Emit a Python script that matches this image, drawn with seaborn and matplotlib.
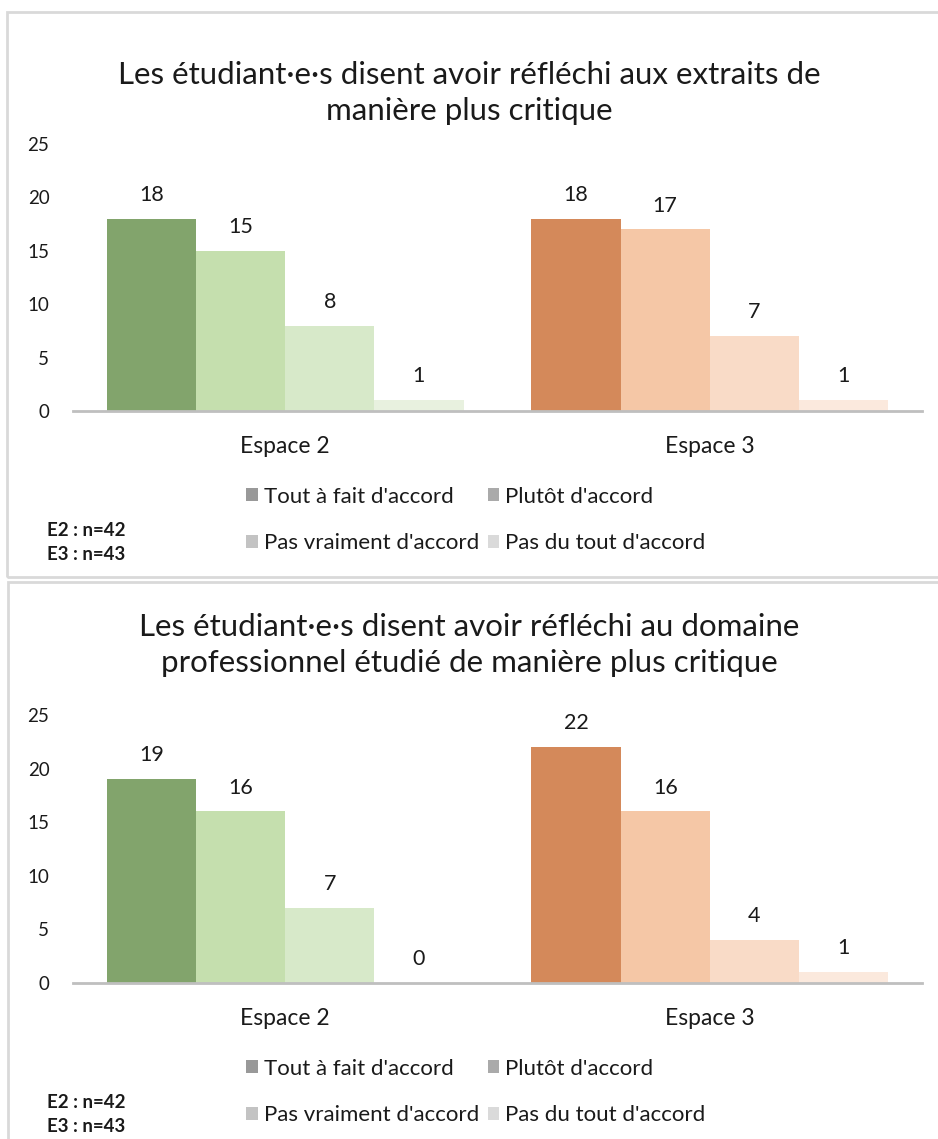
import matplotlib
matplotlib.use("Agg")
import matplotlib.pyplot as plt
import seaborn as sns
import pandas as pd
from matplotlib.patches import Patch, Rectangle

# ---------------- data ----------------
categories = ["Espace 2", "Espace 3"]
responses = ["Tout à fait d'accord", "Plutôt d'accord",
             "Pas vraiment d'accord", "Pas du tout d'accord"]
chart1_e2 = [18, 15, 8, 1]
chart1_e3 = [18, 17, 7, 1]
chart2_e2 = [19, 16, 7, 0]
chart2_e3 = [22, 16, 4, 1]
titles = ["Les étudiant·e·s disent avoir réfléchi aux extraits de\nmanière plus critique",
          "Les étudiant·e·s disent avoir réfléchi au domaine\nprofessionnel étudié de manière plus critique"]
yticks = [0, 5, 10, 15, 20, 25]
notes = ["E2 : n=42", "E3 : n=43"]

greens = ["#82A46C", "#C5DFAE", "#D7E9C9", "#E8F1DF"]
oranges = ["#D4895A", "#F5C7A6", "#F9DBC7", "#FBE9DD"]
legend_grays = ["#999999", "#AAAAAA", "#C3C3C3", "#DADADA"]

W, H = 938, 1139
sns.set_theme(style="white")
plt.rcParams['font.family'] = ['Lato', 'DejaVu Sans']

fig = plt.figure(figsize=(W / 100, H / 100), dpi=100)


def fx(px):
    return px / W


def fy(py):
    return 1 - py / H


panels = [
    dict(border=(7, 12, 940, 577), title_y=93, ax_top=144, ax_bot=411,
         leg_y=520, note_y=(531, 555), data=(chart1_e2, chart1_e3), title=titles[0]),
    dict(border=(8, 582, 940, 1150), title_y=645, ax_top=715, ax_bot=983,
         leg_y=1092, note_y=(1103, 1127), data=(chart2_e2, chart2_e3), title=titles[1]),
]

for p in panels:
    x0, y0, x1, y1 = p["border"]
    fig.patches.append(Rectangle((fx(x0), fy(y1)), fx(x1 - x0), (y1 - y0) / H,
                                 transform=fig.transFigure, fill=False,
                                 edgecolor="#D9D9D9", linewidth=2, zorder=0))
    fig.text(fx(469), fy(p["title_y"]), p["title"], ha="center", va="center",
             fontsize=22.5, linespacing=1.32, color="#1a1a1a")

    ax = fig.add_axes([fx(73), fy(p["ax_bot"]), fx(922 - 73), (p["ax_bot"] - p["ax_top"]) / H])
    ax.patch.set_alpha(0)
    for cat, vals, pal in zip(categories, p["data"], [greens, oranges]):
        df = pd.DataFrame({"espace": [cat] * len(responses), "reponse": responses, "n": vals})
        sns.barplot(data=df, x="espace", y="n", hue="reponse", order=categories,
                    hue_order=responses, palette=pal, width=0.84, gap=0,
                    saturation=1, legend=False, ax=ax, linewidth=0)
    for c in ax.containers:
        ax.bar_label(c, padding=10, fontsize=15.5, color="#1a1a1a", fmt="%d")

    ax.set_ylim(0, 25)
    ax.set_xlim(-0.5, 1.5)
    ax.set_yticks(yticks)
    ax.set_xlabel("")
    ax.set_ylabel("")
    for s in ["left", "right", "top"]:
        ax.spines[s].set_visible(False)
    ax.spines["bottom"].set_color("#BFBFBF")
    ax.spines["bottom"].set_linewidth(2)
    ax.tick_params(axis="y", length=0, pad=17, labelsize=13.5, labelcolor="#1a1a1a")
    ax.tick_params(axis="x", length=0, pad=18, labelsize=16.5, labelcolor="#1a1a1a")
    ax.grid(False)

    handles = [Patch(facecolor=g, edgecolor="none") for g in legend_grays]
    order = [0, 2, 1, 3]
    fig.legend([handles[i] for i in order], [responses[i] for i in order],
               loc="center", bbox_to_anchor=(fx(476), fy(p["leg_y"])), ncol=2,
               frameon=False, fontsize=16, handlelength=0.5, handleheight=0.5,
               handletextpad=0.3, columnspacing=0.36, labelspacing=1.2,
               labelcolor="#1a1a1a")
    for t, yy in zip(notes, p["note_y"]):
        fig.text(fx(47), fy(yy), t, ha="left", va="center", fontsize=13.5,
                 fontweight="bold", color="#1a1a1a")

fig.savefig("out.png", dpi=100)
